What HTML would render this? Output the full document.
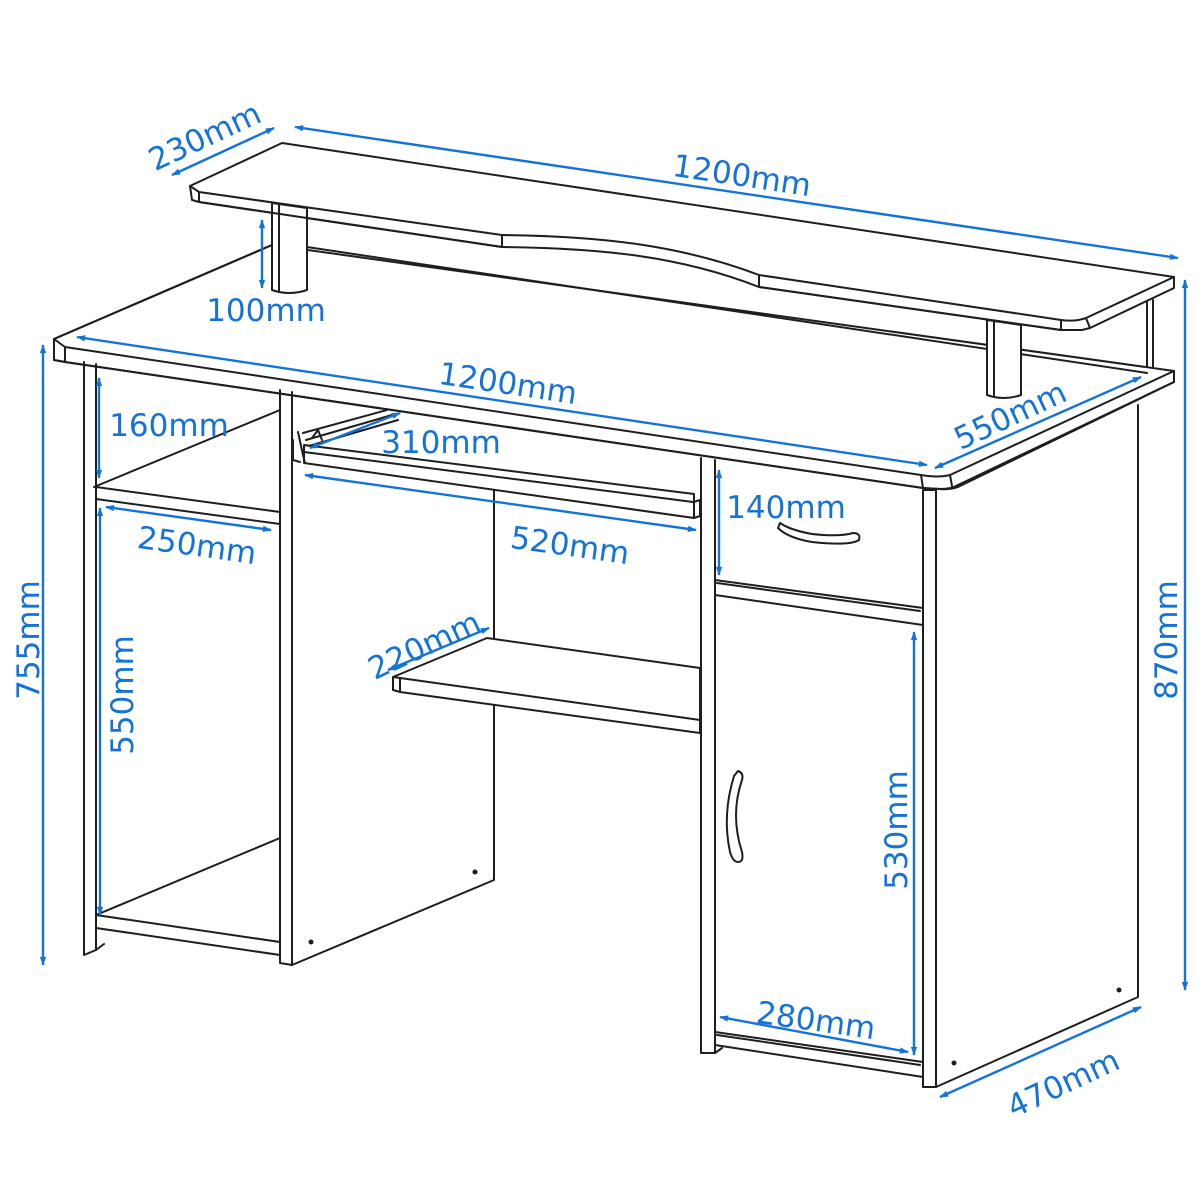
<!DOCTYPE html>
<html><head><meta charset="utf-8"><style>
html,body{margin:0;padding:0;background:#fff}
svg{display:block}
.k{fill:none;stroke:#1e1e1e;stroke-width:2;stroke-linejoin:round;stroke-linecap:round}
.w{fill:#fff;stroke:#1e1e1e;stroke-width:2;stroke-linejoin:round}
.b{stroke:#1473d9;stroke-width:2.4;fill:none}
text{font-family:"DejaVu Sans","Liberation Sans",sans-serif;font-size:31px;fill:#1473d9}
</style></head><body>
<svg width="1200" height="1200" viewBox="0 0 1200 1200" xmlns="http://www.w3.org/2000/svg">
<defs>
<marker id="a" viewBox="0 0 10 10" refX="9" refY="5" markerWidth="13" markerHeight="9" orient="auto-start-reverse" markerUnits="userSpaceOnUse"><path d="M0,1.5 L10,5 L0,8.5 z" fill="#1473d9"/></marker>
</defs>

<path class="k" d="M54,339 L272,245"/>
<path class="k" d="M1147,302 L1147,372 M1153,300 L1153,370"/>

<!-- hutch shelf -->
<path class="w" d="M282,143 L1174,277 L1174,288 L1090,328 L1082,330 L1061,330 L759,287 L759,275 C680,245 600,236 502,235 L502,247 L199,202 L192,200 L190,186 Z"/>
<path class="k" d="M190,186 L199,192 L502,235 M199,192 L199,202 M502,235 L502,247 M759,275 L1061,320 Q1075,322 1086,318 L1174,277 M1061,320 L1061,330 M1086,318 L1090,328"/>
<path class="k" d="M502,247 C600,248 680,256 759,287"/>

<!-- desk top -->
<path class="w" d="M54,339 L272,245 L1174,371 L1174,382 L958,487 Q950,490 940,489 L923,488 L65,362 L54,360 Z" stroke="none"/>
<path class="k" d="M54,339 L54,360 L65,362 L923,488 L940,489 Q952,489 958,485 L1174,382 L1174,371"/>
<path class="k" d="M54,339 L65,347 L921,475 Q938,478 950,475 L1174,371 M65,347 L65,362 M921,475 L923,488 M950,475 L952,486"/>
<path class="k" d="M54,339 L272,245 M307,247 L1147,373"/>

<!-- hutch legs (on desk) -->
<path class="w" d="M272,203 L272,290 Q289,296 307,290 L307,208 Z"/>
<path class="k" d="M279,205 L279,291"/>
<path class="w" d="M987,320 L987,395 Q1004,401 1021,395 L1021,325 Z"/>
<path class="k" d="M994,322 L994,396"/>
<path class="k" d="M199,202 L502,247"/>
<path class="k" d="M759,287 L1061,330"/>

<!-- left panel -->
<path class="k" d="M84,362 L84,955 L96,950 L96,364"/>
<path class="k" d="M280,390 L280,963 L292,965 L292,392"/>
<path class="k" d="M94,487 L280,410 M96,487 L280,512 M96,499 L280,524"/>
<path class="k" d="M96,915 L280,838 M96,915 L280,942 M96,928 L280,955 M96,950 L104,944"/>

<!-- center pedestal side -->
<path class="k" d="M292,965 L494,880 L494,488"/>
<circle cx="475" cy="872" r="2.5" fill="#1e1e1e"/>
<circle cx="311" cy="942" r="2.5" fill="#1e1e1e"/>

<!-- keyboard tray -->
<path class="w" d="M304,445 L694,494 L694,518 L304,463 Z"/>
<path class="k" d="M304,452 L693,502"/>
<path class="k" d="M298,432 L303,455 L305,463 M293,440 L293,460 L300,462"/>
<path class="k" d="M303,433 L387,410 M306,440 L392,415 M309,446 L398,420 M312,438 L318,430 L322,440"/>
<path class="k" d="M694,502 L700,500 L700,516 L694,518"/>

<!-- mid shelf -->
<path class="w" d="M393,677 L487,638 L700,668 L700,733 L400,692 L393,690 Z"/>
<path class="k" d="M393,677 L400,678 L700,720 M400,678 L400,692"/>

<!-- right pedestal -->
<path class="k" d="M701,458 L701,1053 L715,1053 L715,460"/>
<path class="w" d="M923,490 L923,1087 L936,1087 L936,490 Z"/>
<path class="k" d="M936,1087 L1138,997 L1138,405"/>
<circle cx="1119" cy="990" r="2.5" fill="#1e1e1e"/>
<circle cx="954" cy="1063" r="2.5" fill="#1e1e1e"/>
<path class="k" d="M715,580 L923,608 M715,595 L923,625 M715,1032 L923,1062 M715,1045 L923,1077 M715,1053 L722,1048"/>
<path class="k" d="M717,583 L920,611 M717,1035 L920,1065"/>
<path class="k" d="M780,523 Q790,530 812,534 Q840,537 853,533 Q861,533 859,540 Q850,546 812,542 Q788,538 778,528 Z"/>
<path class="k" d="M738,771 Q744,773 742,780 Q730,815 742,852 Q744,862 738,862 Q733,862 730,852 Q722,815 734,776 Z"/>

<!-- dimension lines -->
<line class="b" x1="172" y1="175" x2="274" y2="128" marker-start="url(#a)" marker-end="url(#a)"/>
<line class="b" x1="295" y1="127" x2="1178" y2="258" marker-start="url(#a)" marker-end="url(#a)"/>
<line class="b" x1="262" y1="220" x2="262" y2="288" marker-start="url(#a)" marker-end="url(#a)"/>
<line class="b" x1="77" y1="337" x2="927" y2="465" marker-start="url(#a)" marker-end="url(#a)"/>
<line class="b" x1="935" y1="468" x2="1141" y2="377" marker-start="url(#a)" marker-end="url(#a)"/>
<line class="b" x1="1185" y1="280" x2="1185" y2="990" marker-start="url(#a)" marker-end="url(#a)"/>
<line class="b" x1="43" y1="345" x2="43" y2="965" marker-start="url(#a)" marker-end="url(#a)"/>
<line class="b" x1="99" y1="378" x2="99" y2="478" marker-start="url(#a)" marker-end="url(#a)"/>
<line class="b" x1="106" y1="507" x2="271" y2="530" marker-start="url(#a)" marker-end="url(#a)"/>
<line class="b" x1="100" y1="508" x2="100" y2="915" marker-start="url(#a)" marker-end="url(#a)"/>
<line class="b" x1="310" y1="448" x2="400" y2="413" marker-start="url(#a)" marker-end="url(#a)"/>
<line class="b" x1="305" y1="475" x2="696" y2="530" marker-start="url(#a)" marker-end="url(#a)"/>
<line class="b" x1="719" y1="470" x2="719" y2="575" marker-start="url(#a)" marker-end="url(#a)"/>
<line class="b" x1="388" y1="670" x2="489" y2="628" marker-start="url(#a)" marker-end="url(#a)"/>
<line class="b" x1="914" y1="632" x2="914" y2="1055" marker-start="url(#a)" marker-end="url(#a)"/>
<line class="b" x1="720" y1="1017" x2="908" y2="1052" marker-start="url(#a)" marker-end="url(#a)"/>
<line class="b" x1="940" y1="1097" x2="1141" y2="1007" marker-start="url(#a)" marker-end="url(#a)"/>

<!-- labels -->
<text x="205" y="147" text-anchor="middle" transform="rotate(-25 205 137)">230mm</text>
<text x="742" y="186" text-anchor="middle" transform="rotate(8.5 742 175)">1200mm</text>
<text x="266" y="321" text-anchor="middle">100mm</text>
<text x="508" y="394" text-anchor="middle" transform="rotate(8.5 508 383)">1200mm</text>
<text x="1010" y="426" text-anchor="middle" transform="rotate(-25 1010 415)">550mm</text>
<text x="1166" y="651" text-anchor="middle" transform="rotate(-90 1166 640)">870mm</text>
<text x="28" y="651" text-anchor="middle" transform="rotate(-90 28 640)">755mm</text>
<text x="169" y="436" text-anchor="middle">160mm</text>
<text x="197" y="556" text-anchor="middle" transform="rotate(8 197 545)">250mm</text>
<text x="122" y="706" text-anchor="middle" transform="rotate(-90 122 695)">550mm</text>
<text x="441" y="453" text-anchor="middle">310mm</text>
<text x="570" y="556" text-anchor="middle" transform="rotate(8 570 545)">520mm</text>
<text x="786" y="518" text-anchor="middle">140mm</text>
<text x="424" y="656" text-anchor="middle" transform="rotate(-25 424 645)">220mm</text>
<text x="896" y="841" text-anchor="middle" transform="rotate(-90 896 830)">530mm</text>
<text x="816" y="1031" text-anchor="middle" transform="rotate(8 816 1020)">280mm</text>
<text x="1063" y="1094" text-anchor="middle" transform="rotate(-25 1063 1083)">470mm</text>
</svg>
</body></html>
